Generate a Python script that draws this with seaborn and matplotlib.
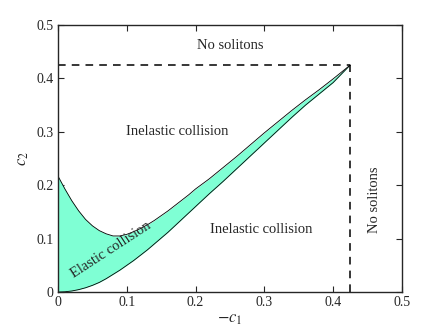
import numpy as np
import pandas as pd
import matplotlib
matplotlib.use("Agg")
import matplotlib.pyplot as plt
import seaborn as sns

c1 = [0.0, 0.01, 0.02, 0.03, 0.04, 0.05, 0.06, 0.07, 0.08, 0.09,
      0.10, 0.11, 0.12, 0.13, 0.14, 0.15, 0.16, 0.17, 0.18, 0.19,
      0.20, 0.22, 0.24, 0.26, 0.28, 0.30, 0.32, 0.34, 0.36, 0.38,
      0.40, 0.425]
upper_c2 = [0.217, 0.193, 0.171, 0.152, 0.136, 0.124, 0.115, 0.109, 0.105, 0.105,
            0.108, 0.113, 0.119, 0.126, 0.134, 0.143, 0.152, 0.162, 0.172, 0.182,
            0.193, 0.212, 0.233, 0.254, 0.276, 0.298, 0.319, 0.340, 0.360, 0.379,
            0.399, 0.425]
lower_c2 = [0.0, 0.0005, 0.002, 0.0045, 0.008, 0.0125, 0.018, 0.025, 0.033, 0.041,
            0.050, 0.059, 0.069, 0.079, 0.090, 0.101, 0.112, 0.124, 0.136, 0.148,
            0.160, 0.184, 0.207, 0.231, 0.255, 0.279, 0.303, 0.327, 0.350, 0.371,
            0.392, 0.425]
edge = 0.425  # limit of soliton existence
ticks = [0, 0.1, 0.2, 0.3, 0.4, 0.5]
tick_labels = ["0", "0.1", "0.2", "0.3", "0.4", "0.5"]

df = pd.DataFrame({"c1": c1, "upper": upper_c2, "lower": lower_c2})

sns.set_style("ticks")
plt.rcParams["font.family"] = ["Liberation Serif", "DejaVu Serif"]
plt.rcParams["mathtext.fontset"] = "stix"
plt.rcParams["xtick.direction"] = "in"
plt.rcParams["ytick.direction"] = "in"

fig = plt.figure(figsize=(4.43, 3.33), dpi=100)
ax = fig.add_axes([0.131, 0.123, 0.776, 0.802])

ax.fill_between(df["c1"], df["lower"], df["upper"], color="#7fffd4", lw=0)
sns.lineplot(data=df, x="c1", y="upper", color="k", lw=0.6, ax=ax)
sns.lineplot(data=df, x="c1", y="lower", color="k", lw=0.6, ax=ax)

ax.hlines(edge, 0, edge, colors="k", linestyles=(0, (5, 4)), lw=1.1)
ax.vlines(edge, 0, edge, colors="k", linestyles=(0, (5, 4)), lw=1.1)

fs = 10.5
ax.text(0.25, 0.4625, "No solitons", ha="center", va="center", fontsize=fs)
ax.text(0.174, 0.30, "Inelastic collision", ha="center", va="center", fontsize=fs)
ax.text(0.295, 0.118, "Inelastic collision", ha="center", va="center", fontsize=fs)
ax.text(0.461, 0.172, "No solitons", ha="center", va="center", rotation=90, fontsize=fs)
ax.text(0.077, 0.079, "Elastic collision", ha="center", va="center", rotation=33, fontsize=fs)

ax.set_xlim(0, 0.5)
ax.set_ylim(0, 0.5)
ax.set_xticks(ticks)
ax.set_xticklabels(tick_labels, fontsize=10)
ax.set_yticks(ticks)
ax.set_yticklabels(tick_labels, fontsize=10)
ax.tick_params(top=True, right=True, length=4, width=0.8, pad=3)
ax.set_xlabel("$-c_1$", fontsize=12, labelpad=1)
ax.set_ylabel("$c_2$", fontsize=12, labelpad=4)
for s in ax.spines.values():
    s.set_linewidth(1.0)

fig.savefig("out.png", dpi=100)
